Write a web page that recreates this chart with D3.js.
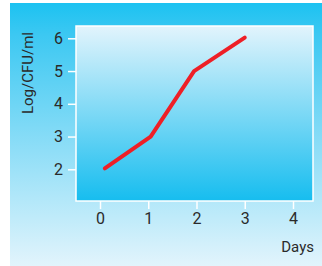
<!DOCTYPE html>
<html>
<head>
<meta charset="utf-8">
<script src="https://cdn.jsdelivr.net/npm/d3@7"></script>
<style>
  body { margin: 0; background: #fff; }
  text { font-family: Roboto, "DejaVu Sans", sans-serif; fill: #2a2a2a; }
</style>
</head>
<body>
<div id="chart"></div>
<script>
// data
var days = [0.1, 1.05, 1.95, 3]
var logCfu = [2.03, 3, 5, 6.02]
var xTicks = [0, 1, 2, 3, 4]
var yTicks = [2, 3, 4, 5, 6]

var W = 322, H = 266
var plot = { left: 76, top: 26, right: 313, bottom: 201 }

var svg = d3.select("#chart").append("svg")
    .attr("width", W)
    .attr("height", H)

var defs = svg.append("defs")
var outerGrad = defs.append("linearGradient").attr("id", "outerGrad")
    .attr("x1", 0).attr("y1", 0).attr("x2", 0).attr("y2", 1)
outerGrad.append("stop").attr("offset", "0%").attr("stop-color", "#1cc2f1")
outerGrad.append("stop").attr("offset", "12%").attr("stop-color", "#3cc8f2")
outerGrad.append("stop").attr("offset", "100%").attr("stop-color", "#e2f4fc")

var innerGrad = defs.append("linearGradient").attr("id", "innerGrad")
    .attr("x1", 0).attr("y1", 0).attr("x2", 0).attr("y2", 1)
innerGrad.append("stop").attr("offset", "0%").attr("stop-color", "#e2f4fc")
innerGrad.append("stop").attr("offset", "100%").attr("stop-color", "#16bdef")

// outer panel
svg.append("rect")
    .attr("x", 10).attr("y", 3)
    .attr("width", W - 10).attr("height", H - 3)
    .attr("fill", "url(#outerGrad)")

// plot area
svg.append("rect")
    .attr("x", plot.left).attr("y", plot.top)
    .attr("width", plot.right - plot.left).attr("height", plot.bottom - plot.top)
    .attr("fill", "url(#innerGrad)")
    .attr("stroke", "#fff")
    .attr("stroke-width", 1.5)

var x = d3.scaleLinear()
    .domain([0, 4])
    .range([100, 293])

var y = d3.scaleLinear()
    .domain([2, 6])
    .range([169.3, 38.3])

// x axis
var xAxis = svg.append("g")
    .attr("transform", "translate(0," + plot.bottom + ")")
    .call(d3.axisBottom(x).tickValues(xTicks).tickSize(8).tickPadding(4).tickFormat(d3.format("d")))
xAxis.select(".domain").remove()
xAxis.selectAll("line").attr("stroke", "#fff").attr("stroke-width", 1.5)
xAxis.selectAll("text").attr("font-size", 16).attr("fill", "#2a2a2a")
    .attr("font-family", "Roboto, sans-serif")

// y axis
var yAxis = svg.append("g")
    .attr("transform", "translate(" + plot.left + ",0)")
    .call(d3.axisLeft(y).tickValues(yTicks).tickSize(8).tickPadding(5).tickFormat(d3.format("d")))
yAxis.select(".domain").remove()
yAxis.selectAll("line").attr("stroke", "#fff").attr("stroke-width", 1.5)
yAxis.selectAll("text").attr("font-size", 16).attr("fill", "#2a2a2a")
    .attr("font-family", "Roboto, sans-serif")

// axis titles
svg.append("text")
    .attr("x", 314).attr("y", 252)
    .attr("text-anchor", "end")
    .attr("font-size", 15)
    .text("Days")

svg.append("text")
    .attr("transform", "translate(33,73) rotate(-90)")
    .attr("text-anchor", "middle")
    .attr("font-size", 15)
    .text("Log/CFU/ml")

// the curve
var line = d3.line()
    .x(function (d) { return x(d[0]) })
    .y(function (d) { return y(d[1]) })

svg.append("path")
    .datum(d3.zip(days, logCfu))
    .attr("d", line)
    .attr("fill", "none")
    .attr("stroke", "#ee1f26")
    .attr("stroke-width", 4)
    .attr("stroke-linecap", "round")
    .attr("stroke-linejoin", "round")
</script>
</body>
</html>
